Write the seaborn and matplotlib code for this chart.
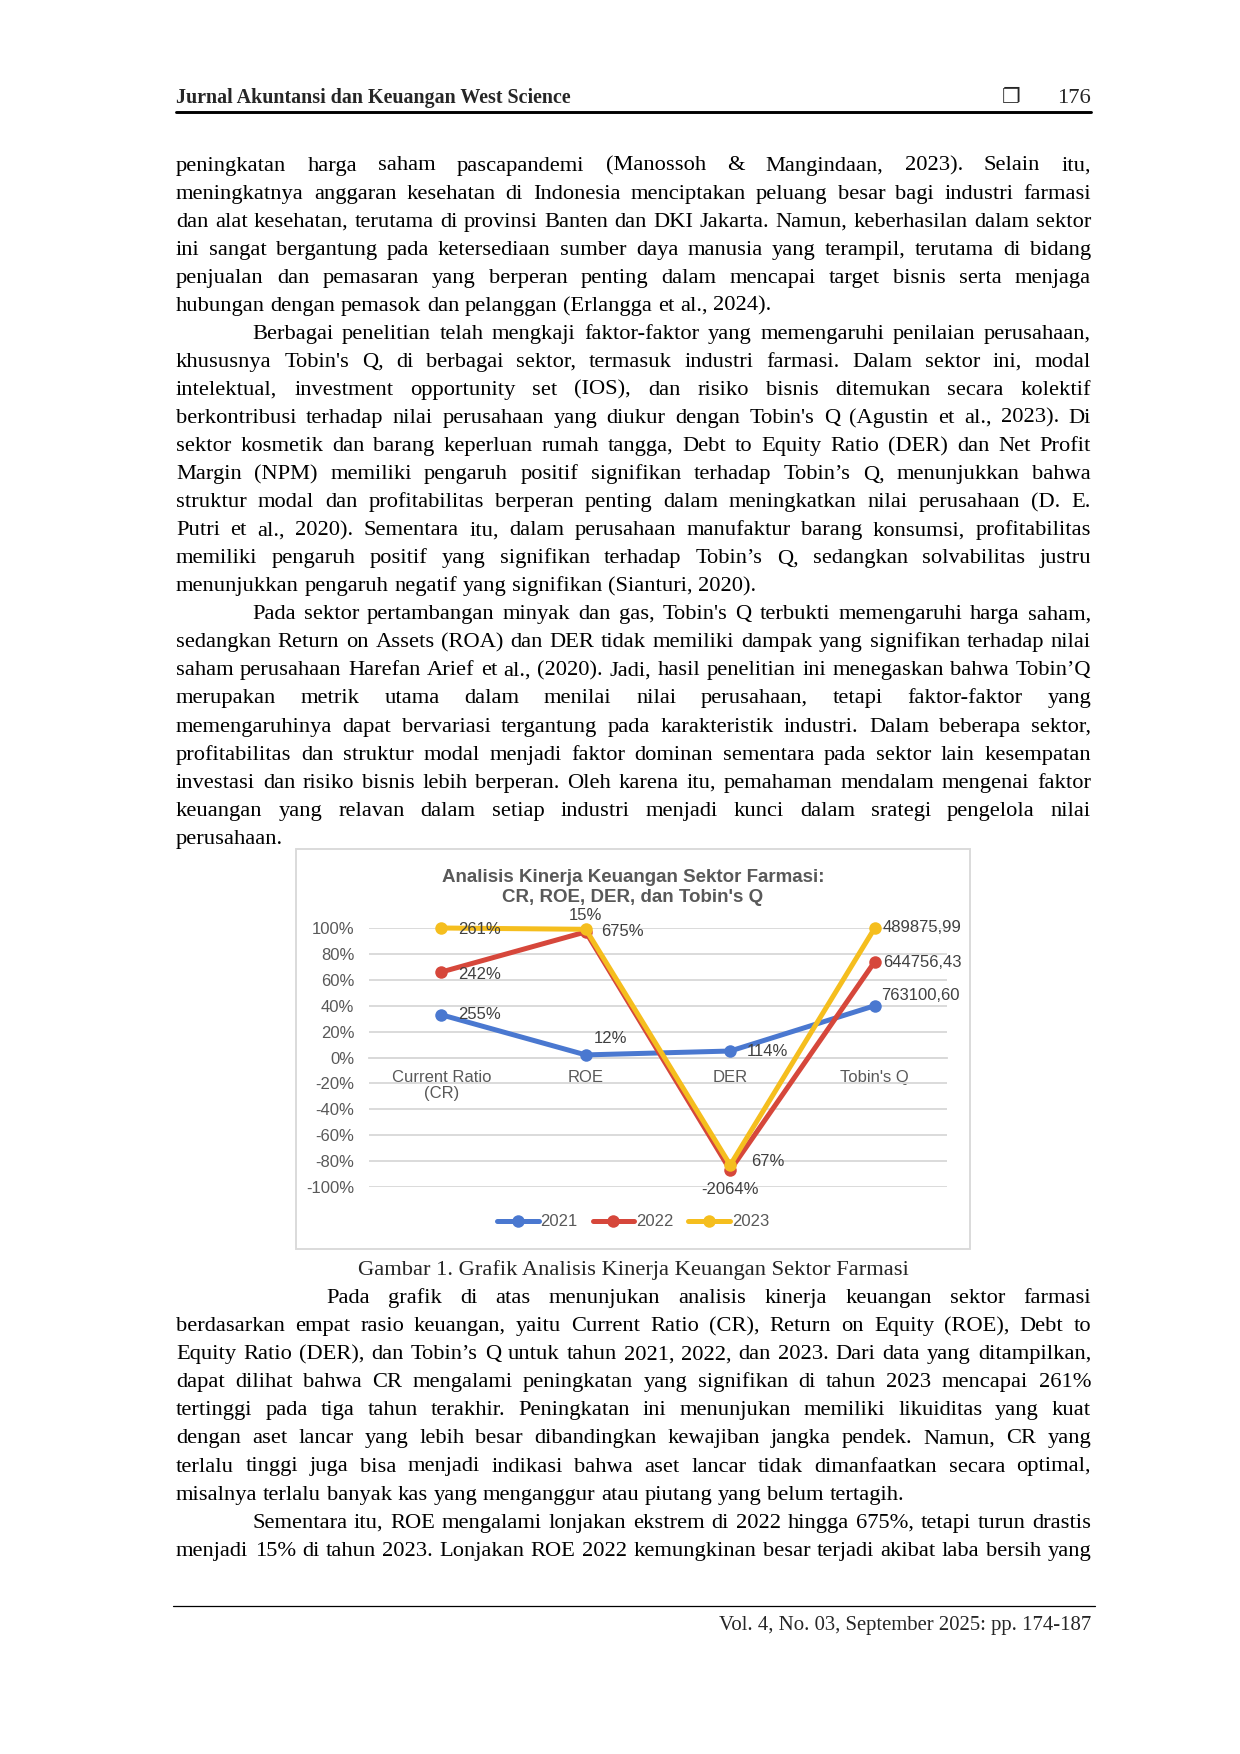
import numpy as np
import pandas as pd
import matplotlib
matplotlib.use("Agg")
import matplotlib.pyplot as plt
import seaborn as sns
from matplotlib.font_manager import FontProperties
from matplotlib.patches import Rectangle
from matplotlib.lines import Line2D

# ---------------- chart data ----------------
categories = ["Current Ratio\n(CR)", "ROE", "DER", "Tobin's Q"]
years = ["2021", "2022", "2023"]
values_2021 = [33, 2, 5, 40]
values_2022 = [66, 97, -87, 74]
values_2023 = [100, 99, -83, 100]
labels_2021 = ["255%", "12%", "114%", "763100,60"]
labels_2022 = ["242%", "675%", "-2064%", "644756,43"]
labels_2023 = ["261%", "15%", "67%", "489875,99"]
y_ticks = [100, 80, 60, 40, 20, 0, -20, -40, -60, -80, -100]
y_tick_labels = ["100%", "80%", "60%", "40%", "20%", "0%", "-20%", "-40%", "-60%", "-80%", "-100%"]
chart_title_1 = "Analisis Kinerja Keuangan Sektor Farmasi:"
chart_title_2 = "CR, ROE, DER, dan Tobin's Q"

# ---------------- page text ----------------
header_title = "Jurnal Akuntansi dan Keuangan West Science"
page_number = "176"
footer_text = "Vol. 4, No. 03, September 2025: pp. 174-187"
caption_text = "Gambar 1. Grafik Analisis Kinerja Keuangan Sektor Farmasi"

para1 = [
    "peningkatan harga saham pascapandemi (Manossoh & Mangindaan, 2023). Selain itu,",
    "meningkatnya anggaran kesehatan di Indonesia menciptakan peluang besar bagi industri farmasi",
    "dan alat kesehatan, terutama di provinsi Banten dan DKI Jakarta. Namun, keberhasilan dalam sektor",
    "ini sangat bergantung pada ketersediaan sumber daya manusia yang terampil, terutama di bidang",
    "penjualan dan pemasaran yang berperan penting dalam mencapai target bisnis serta menjaga",
    "hubungan dengan pemasok dan pelanggan (Erlangga et al., 2024).",
]
para2 = [
    "Berbagai penelitian telah mengkaji faktor-faktor yang memengaruhi penilaian perusahaan,",
    "khususnya Tobin's Q, di berbagai sektor, termasuk industri farmasi. Dalam sektor ini, modal",
    "intelektual, investment opportunity set (IOS), dan risiko bisnis ditemukan secara kolektif",
    "berkontribusi terhadap nilai perusahaan yang diukur dengan Tobin's Q (Agustin et al., 2023). Di",
    "sektor kosmetik dan barang keperluan rumah tangga, Debt to Equity Ratio (DER) dan Net Profit",
    "Margin (NPM) memiliki pengaruh positif signifikan terhadap Tobin\u2019s Q, menunjukkan bahwa",
    "struktur modal dan profitabilitas berperan penting dalam meningkatkan nilai perusahaan (D. E.",
    "Putri et al., 2020). Sementara itu, dalam perusahaan manufaktur barang konsumsi, profitabilitas",
    "memiliki pengaruh positif yang signifikan terhadap Tobin\u2019s Q, sedangkan solvabilitas justru",
    "menunjukkan pengaruh negatif yang signifikan (Sianturi, 2020).",
]
para3 = [
    "Pada sektor pertambangan minyak dan gas, Tobin's Q terbukti memengaruhi harga saham,",
    "sedangkan Return on Assets (ROA) dan DER tidak memiliki dampak yang signifikan terhadap nilai",
    "saham perusahaan Harefan Arief et al., (2020). Jadi, hasil penelitian ini menegaskan bahwa Tobin\u2019Q",
    "merupakan metrik utama dalam menilai nilai perusahaan, tetapi faktor-faktor yang",
    "memengaruhinya dapat bervariasi tergantung pada karakteristik industri. Dalam beberapa sektor,",
    "profitabilitas dan struktur modal menjadi faktor dominan sementara pada sektor lain kesempatan",
    "investasi dan risiko bisnis lebih berperan. Oleh karena itu, pemahaman mendalam mengenai faktor",
    "keuangan yang relavan dalam setiap industri menjadi kunci dalam srategi pengelola nilai",
    "perusahaan.",
]
para4 = [
    "Pada grafik di atas menunjukan analisis kinerja keuangan sektor farmasi",
    "berdasarkan empat rasio keuangan, yaitu Current Ratio (CR), Return on Equity (ROE), Debt to",
    "Equity Ratio (DER), dan Tobin\u2019s Q untuk tahun 2021, 2022, dan 2023. Dari data yang ditampilkan,",
    "dapat dilihat bahwa CR mengalami peningkatan yang signifikan di tahun 2023 mencapai 261%",
    "tertinggi pada tiga tahun terakhir. Peningkatan ini menunjukan memiliki likuiditas yang kuat",
    "dengan aset lancar yang lebih besar dibandingkan kewajiban jangka pendek. Namun, CR yang",
    "terlalu tinggi juga bisa menjadi indikasi bahwa aset lancar tidak dimanfaatkan secara optimal,",
    "misalnya terlalu banyak kas yang menganggur atau piutang yang belum tertagih.",
]
para5 = [
    "Sementara itu, ROE mengalami lonjakan ekstrem di 2022 hingga 675%, tetapi turun drastis",
    "menjadi 15% di tahun 2023. Lonjakan ROE 2022 kemungkinan besar terjadi akibat laba bersih yang",
]

# ---------------- setup ----------------
sns.set_style("white")
plt.rcParams["font.family"] = ["Liberation Sans", "DejaVu Sans"]

W, H, DPI = 1240, 1754, 150
fig = plt.figure(figsize=(W / DPI, H / DPI), dpi=DPI)
fig.patch.set_facecolor("white")
renderer = fig.canvas.get_renderer()

SERIF = "Liberation Serif"


def fx(x):
    return x / W


def fy(y):
    return 1 - y / H


def text_w(s, fp):
    return renderer.get_text_width_height_descent(s, fp, ismath=False)[0]


LEFT, RIGHT = 176, 1091
INDENT = 252
INDENT4 = 326
STEP = 28.05

blocks = []  # (lines, first_indent, first_baseline, continued)
y0 = 170.5
blocks.append((para1, LEFT, y0 + 0 * STEP, True))
blocks.append((para2, INDENT, y0 + 6 * STEP, False))
blocks.append((para3, INDENT, y0 + 16 * STEP, False))
y1 = 1303.2
blocks.append((para4, INDENT4, y1 + 0 * STEP, False))
blocks.append((para5, INDENT, y1 + 8 * STEP, False))

base_fp = FontProperties(family=SERIF, size=11)
max_ratio = 0
for lines, ind, yb, cont in blocks:
    for i, ln in enumerate(lines):
        x0 = LEFT if (cont or i > 0) else ind
        nat = text_w(ln, base_fp)
        max_ratio = max(max_ratio, nat / (RIGHT - x0))
body_size = min(11.6, 11 * 0.985 / max_ratio)
body_fp = FontProperties(family=SERIF, size=body_size)
space_w = text_w("a a", body_fp) - 2 * text_w("a", body_fp)


def draw_line(s, x0, x1, yb, fp, justify):
    words = s.split()
    widths = [text_w(w, fp) for w in words]
    if justify and len(words) > 1:
        gap = (x1 - x0 - sum(widths)) / (len(words) - 1)
    else:
        gap = space_w
    x = x0
    for w, wd in zip(words, widths):
        fig.text(fx(x), fy(yb), w, fontproperties=fp, ha="left", va="baseline", color="black")
        x += wd + gap


for lines, ind, yb, cont in blocks:
    for i, ln in enumerate(lines):
        x0 = LEFT if (cont or i > 0) else ind
        last = (i == len(lines) - 1) and lines is not para5
        draw_line(ln, x0, RIGHT, yb + i * STEP, body_fp, not last)

# caption
fig.text(fx(633), fy(1275.5), caption_text, fontproperties=body_fp, ha="center", va="baseline")

# header
hfp = FontProperties(family=SERIF, size=10, weight="bold")
hsize = 10 * 395 / text_w(header_title, hfp)
hfp = FontProperties(family=SERIF, size=hsize, weight="bold")
fig.text(fx(176), fy(103), header_title, fontproperties=hfp, ha="left", va="baseline")
fig.text(fx(1011), fy(103), "\u2750", family=["DejaVu Sans"], fontsize=10, ha="center", va="baseline")
fig.text(fx(1091), fy(103), page_number, family=SERIF, fontsize=body_size, ha="right", va="baseline")
fig.add_artist(Line2D([fx(176), fx(1091)], [fy(112), fy(112)], transform=fig.transFigure,
                      color="black", lw=1.4))

# footer
fig.add_artist(Line2D([fx(173), fx(1095)], [fy(1606), fy(1606)], transform=fig.transFigure,
                      color="black", lw=0.6))
ffp = FontProperties(family=SERIF, size=10)
fsize = 10 * 375 / text_w(footer_text, ffp)
fig.text(fx(1091), fy(1630), footer_text, family=SERIF, fontsize=fsize, ha="right", va="baseline")

# ---------------- chart ----------------
frame = Rectangle((fx(296), fy(1249)), fx(970) - fx(296), fy(849) - fy(1249),
                  transform=fig.transFigure, facecolor="white", edgecolor="#D9D9D9", lw=0.9,
                  zorder=-5)
fig.add_artist(frame)

ax_left, ax_right = 369, 947
ax_top, ax_bottom = 928, 1187
ax = fig.add_axes([fx(ax_left), fy(ax_bottom), fx(ax_right) - fx(ax_left), fy(ax_top) - fy(ax_bottom)])
ax.set_zorder(5)
ax.set_facecolor("none")

df = pd.DataFrame({
    "category": categories * 3,
    "value": values_2021 + values_2022 + values_2023,
    "year": [y for y in years for _ in categories],
})
palette = {"2021": "#4A78D0", "2022": "#D6473B", "2023": "#F5BE1E"}

sns.lineplot(data=df, x="category", y="value", hue="year", hue_order=years, palette=palette,
             marker="o", markersize=6, markeredgewidth=0, linewidth=2.4, sort=False,
             errorbar=None, legend=False, ax=ax)
for ln in ax.lines:
    ln.set_clip_on(False)
    ln.set_solid_joinstyle("round")

ax.set_xlim(-0.5, 3.5)
ax.set_ylim(-100, 100)
ax.set_yticks(y_ticks)
ax.set_yticklabels(y_tick_labels)
ax.set_xlabel("")
ax.set_ylabel("")
ax.yaxis.grid(True, color="#D9D9D9", lw=0.9)
ax.xaxis.grid(False)
ax.set_axisbelow(True)
for side in ["left", "right", "top"]:
    ax.spines[side].set_visible(False)
ax.spines["bottom"].set_position(("data", 0))
ax.spines["bottom"].set_color("#D9D9D9")
ax.spines["bottom"].set_linewidth(0.9)
ax.spines["bottom"].set_zorder(0.5)
ax.tick_params(axis="y", length=0, pad=7, labelsize=8, labelcolor="#595959")
ax.tick_params(axis="x", length=0, pad=6, labelsize=8, labelcolor="#595959")
for t in ax.get_xticklabels() + ax.get_yticklabels():
    t.set_family(["Liberation Sans", "DejaVu Sans"])
for t in ax.get_xticklabels():
    t.set_linespacing(1.1)

# data labels (offsets in points relative to each marker)
label_offsets = {
    "2021": [(8, 0, "left"), (12, 8, "center"), (8, 0, "left"), (3, 5, "left")],
    "2022": [(8, -1.3, "left"), (7.5, 0, "left"), (0, -9.5, "center"), (4, -0.6, "left")],
    "2023": [(8, -0.5, "left"), (0, 6.8, "center"), (10, 1.5, "left"), (4, 0, "left")],
}
series = {"2021": (values_2021, labels_2021), "2022": (values_2022, labels_2022),
          "2023": (values_2023, labels_2023)}
for yr in years:
    vals, labs = series[yr]
    for i, (v, lab) in enumerate(zip(vals, labs)):
        dx, dy, ha = label_offsets[yr][i]
        ax.annotate(lab, xy=(i, v), xytext=(dx, dy), textcoords="offset points",
                    ha=ha, va="center", fontsize=8, color="#404040",
                    family=["Liberation Sans", "DejaVu Sans"], annotation_clip=False)

# chart title
fig.text(fx(633), fy(877), chart_title_1, fontsize=9, fontweight="bold", color="#595959",
         ha="center", va="center", family=["Liberation Sans", "DejaVu Sans"])
fig.text(fx(633), fy(897), chart_title_2, fontsize=9, fontweight="bold", color="#595959",
         ha="center", va="center", family=["Liberation Sans", "DejaVu Sans"])

# legend
leg = ax.legend(handles=ax.lines[:3], labels=years, loc="center",
                bbox_to_anchor=(fx(633), fy(1222)), bbox_transform=fig.transFigure,
                ncol=3, frameon=False, handlelength=2.5, handletextpad=0.1,
                columnspacing=0.9, prop=FontProperties(family="Liberation Sans", size=8))
for t in leg.get_texts():
    t.set_color("#595959")

fig.savefig("out.png", dpi=DPI, facecolor="white")
